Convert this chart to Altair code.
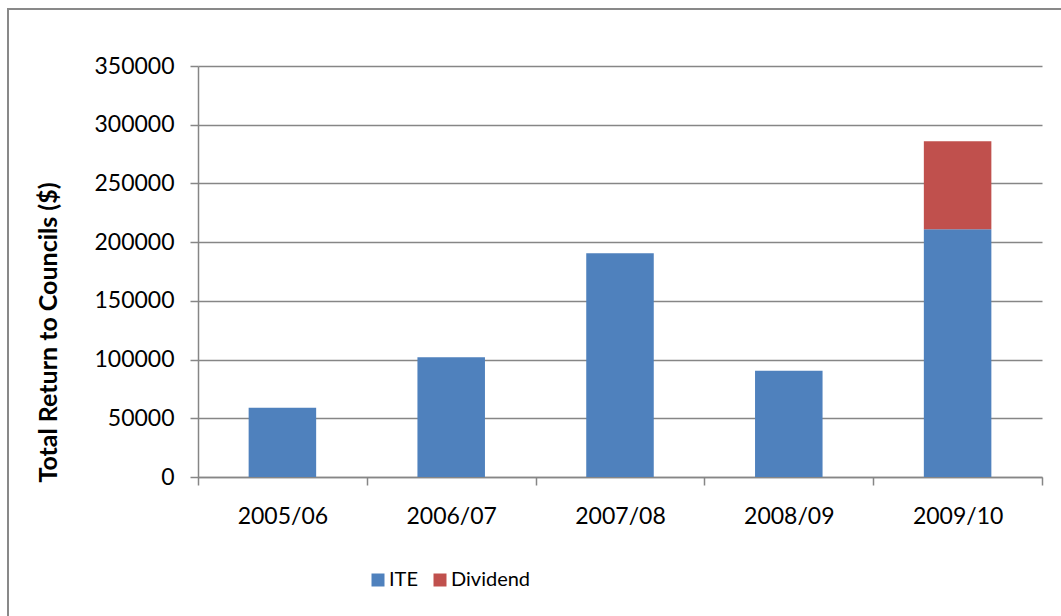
import altair as alt
import pandas as pd

# Annual return to councils, split by source
years = ["2005/06", "2006/07", "2007/08", "2008/09", "2009/10"]
ite = [59000, 102000, 190500, 90500, 211000]
dividend = [0, 0, 0, 0, 75000]
series = ["ITE", "Dividend"]
colors = ["#4F81BD", "#C0504D"]
y_ticks = [0, 50000, 100000, 150000, 200000, 250000, 300000, 350000]

rows = []
for yr, a, b in zip(years, ite, dividend):
    rows.append({"year": yr, "source": "ITE", "value": a, "rank": 0})
    if b:
        rows.append({"year": yr, "source": "Dividend", "value": b, "rank": 1})
df = pd.DataFrame(rows)

FONT = "Lato"
W, H = 844, 411
LEFT, TOP = 198, 66

bars = alt.Chart(df).mark_bar(width=alt.RelativeBandSize(0.4)).encode(
    x=alt.X(
        "year:N",
        sort=years,
        scale=alt.Scale(paddingInner=0, paddingOuter=0),
        axis=alt.Axis(
            title=None,
            labelAngle=0,
            labelFontSize=23,
            labelFont=FONT,
            labelColor="#000000",
            labelPadding=20,
            tickBand="extent",
            tickSize=8,
            tickColor="#868686",
            tickWidth=1.5,
            domainColor="#868686",
            domainWidth=1.5,
            grid=False,
        ),
    ),
    y=alt.Y(
        "value:Q",
        stack="zero",
        scale=alt.Scale(domain=[0, 350000], nice=False),
        axis=alt.Axis(
            title="Total Return to Councils ($)",
            titleFont=FONT,
            titleFontSize=25,
            titleFontWeight="bold",
            titleColor="#000000",
            titleAngle=-90,
            titleX=-150,
            titleY=266,
            titleAlign="center",
            titleBaseline="middle",
            values=y_ticks,
            format="d",
            labelFont=FONT,
            labelFontSize=23,
            labelColor="#000000",
            labelPadding=16,
            tickSize=8,
            tickColor="#868686",
            tickWidth=1.5,
            domainColor="#868686",
            domainWidth=1.5,
            grid=True,
            gridColor="#868686",
            gridWidth=1.5,
        ),
    ),
    color=alt.Color(
        "source:N",
        scale=alt.Scale(domain=series, range=colors),
        legend=alt.Legend(
            title=None,
            orient="none",
            direction="horizontal",
            legendX=170,
            legendY=504,
            symbolType="square",
            symbolSize=169,
            symbolStrokeWidth=0,
            labelFont=FONT,
            labelFontSize=20,
            labelColor="#000000",
            columnPadding=12,
            labelOffset=1,
        ),
    ),
    order=alt.Order("rank:Q", sort="ascending"),
)

# Outer chart frame
frame = alt.Chart(pd.DataFrame({"k": [0]})).mark_rect(
    fill=None, stroke="#898989", strokeWidth=2
).encode(
    x=alt.value(8 - LEFT),
    x2=alt.value(1075 - LEFT),
    y=alt.value(9 - TOP),
    y2=alt.value(630 - TOP),
)

chart = alt.layer(bars, frame).properties(
    width=W,
    height=H,
    autosize=alt.AutoSizeParams(type="none"),
    padding={"left": LEFT, "top": TOP, "right": 1061 - LEFT - W, "bottom": 616 - TOP - H},
    background="#ffffff",
).configure_view(stroke=None)

chart.save("out.html", embed_options={"renderer": "svg", "actions": False})
